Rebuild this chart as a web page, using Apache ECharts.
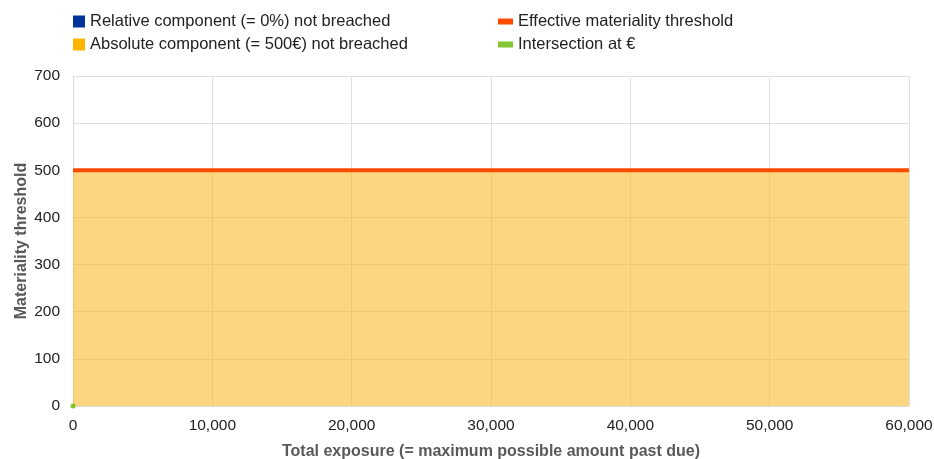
<!DOCTYPE html>
<html><head><meta charset="utf-8">
<script src="https://cdn.jsdelivr.net/npm/echarts@6/dist/echarts.min.js"></script>
<style>html,body{margin:0;padding:0;background:#fff}#c{width:934px;height:459px}</style>
</head><body><div id="c"></div>
<script>
const exposure = [0, 60000];
const relativeValues = [0, 0];
const absoluteValues = [500, 500];
const effectiveValues = [500, 500];
const intersection = [[0, 0]];
const seriesNames = ['Relative component (= 0%) not breached','Absolute component (= 500€) not breached','Effective materiality threshold','Intersection at €'];

const chart = echarts.init(document.getElementById('c'));
const font = 'Liberation Sans, Arial, sans-serif';
const legText = {fontFamily:font,fontSize:16.5,color:'#222',lineHeight:16};
chart.setOption({
  animation:false,
  textStyle:{fontFamily:font},
  legend:[
    {data:[seriesNames[0],seriesNames[1]],orient:'vertical',left:68,top:8,itemWidth:12,itemHeight:12,itemGap:6,icon:'rect',textStyle:legText},
    {data:[seriesNames[2],seriesNames[3]],orient:'vertical',left:493,top:8,itemWidth:15,itemHeight:6,itemGap:6,icon:'rect',textStyle:legText}
  ],
  grid:{left:73,right:25,top:76,bottom:53,outerBoundsMode:'none',containLabel:false},
  xAxis:{type:'value',min:0,max:60000,interval:10000,
    name:'Total exposure (= maximum possible amount past due)',nameLocation:'middle',nameGap:38,
    nameTextStyle:{fontFamily:font,fontSize:16,fontWeight:'bold',color:'#595959'},
    axisLine:{show:true,lineStyle:{color:'#d9d9d9'}},axisTick:{show:false},
    axisLabel:{fontFamily:font,fontSize:15.5,color:'#222',margin:12,formatter:v=>v.toLocaleString('en-US')},
    splitLine:{show:true,lineStyle:{color:'#e0e0e0'}}},
  yAxis:{type:'value',min:0,max:700,interval:100,
    name:'Materiality threshold',nameLocation:'middle',nameGap:43,nameMoveOverlap:false,
    nameTextStyle:{fontFamily:font,fontSize:16,fontWeight:'bold',color:'#595959'},
    axisLine:{show:true,lineStyle:{color:'#d9d9d9'}},axisTick:{show:false},
    axisLabel:{fontFamily:font,fontSize:15.5,color:'#222',margin:13},
    splitLine:{show:true,lineStyle:{color:'#e0e0e0'}}},
  series:[
    {name:seriesNames[0],type:'line',data:exposure.map((x,i)=>[x,relativeValues[i]]),symbol:'none',
      itemStyle:{color:'#003299'},lineStyle:{width:0},areaStyle:{color:'#003299',opacity:0.5},z:2},
    {name:seriesNames[1],type:'line',data:exposure.map((x,i)=>[x,absoluteValues[i]]),symbol:'none',
      itemStyle:{color:'#FFB400'},lineStyle:{width:0},areaStyle:{color:'#FCB51A',opacity:0.55},z:2},
    {name:seriesNames[2],type:'line',data:exposure.map((x,i)=>[x,effectiveValues[i]]),symbol:'none',
      itemStyle:{color:'#FF4B00'},lineStyle:{color:'#FF4B00',width:4},z:4},
    {name:seriesNames[3],type:'scatter',data:intersection,symbolSize:5,
      itemStyle:{color:'#65B800'},z:5}
  ]
});
</script></body></html>
